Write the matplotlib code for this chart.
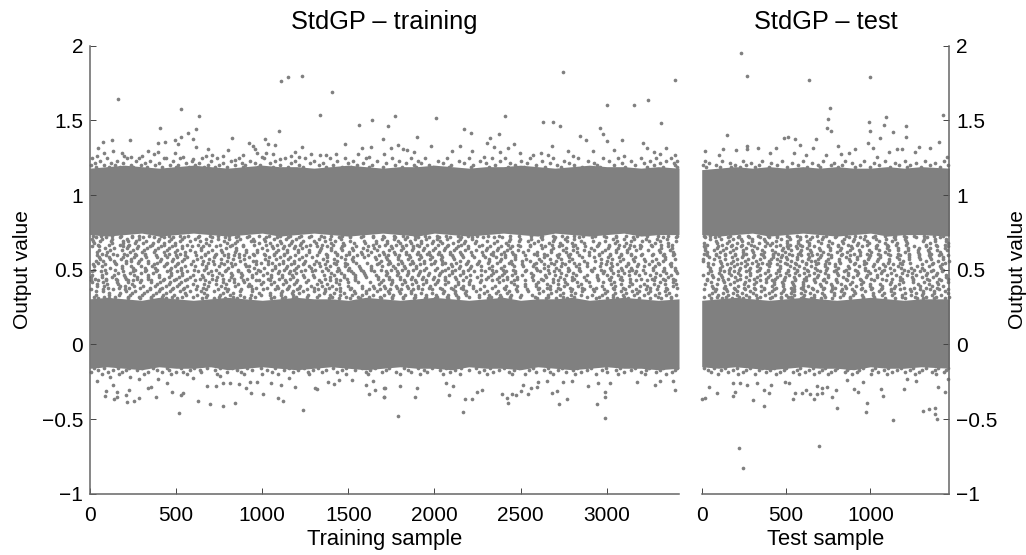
import matplotlib
matplotlib.use('Agg')
import matplotlib.pyplot as plt
import numpy as np

plt.rcParams['font.family'] = ['Liberation Sans', 'DejaVu Sans']

GREY = '#808080'

# the two solid bands hold far too many dots to read one by one, so their
# limits are read off the picture every 100 samples and drawn as filled areas
train_band_x = list(range(0, 3400, 100)) + [3420]
train_hi_top = [1.18, 1.19, 1.2, 1.19, 1.18, 1.19, 1.2, 1.19, 1.18, 1.19, 1.2, 1.19, 1.19, 1.18, 1.19, 1.2, 1.19, 1.18,
                1.19, 1.19, 1.2, 1.19, 1.18, 1.19, 1.19, 1.2, 1.19, 1.18, 1.19, 1.2, 1.19, 1.19, 1.18, 1.19, 1.18]
train_hi_bot = [0.735, 0.725, 0.735, 0.745, 0.725, 0.735, 0.745, 0.735, 0.725, 0.735, 0.745, 0.725, 0.735, 0.745, 0.735, 0.725, 0.735, 0.745,
                0.735, 0.725, 0.745, 0.735, 0.725, 0.735, 0.745, 0.735, 0.725, 0.745, 0.735, 0.725, 0.735, 0.745, 0.725, 0.735, 0.735]
train_lo_top = [0.305, 0.315, 0.305, 0.295, 0.315, 0.305, 0.295, 0.305, 0.315, 0.305, 0.295, 0.305, 0.315, 0.305, 0.305, 0.295, 0.315, 0.305,
                0.295, 0.305, 0.315, 0.305, 0.295, 0.305, 0.315, 0.295, 0.305, 0.305, 0.315, 0.295, 0.305, 0.315, 0.305, 0.295, 0.305]
train_lo_bot = [-0.16, -0.15, -0.16, -0.17, -0.15, -0.16, -0.16, -0.15, -0.17, -0.16, -0.15, -0.16, -0.17, -0.16, -0.15, -0.16,
                -0.17, -0.16, -0.15, -0.16, -0.16, -0.17, -0.15, -0.16, -0.16, -0.17, -0.15, -0.16, -0.17, -0.16, -0.15, -0.16,
                -0.16, -0.17, -0.16]

test_band_x = list(range(0, 1400, 100)) + [1467]
test_hi_top = [1.17, 1.18, 1.19, 1.18, 1.19, 1.18, 1.19, 1.18, 1.19, 1.18, 1.18, 1.19, 1.18, 1.19, 1.18]
test_hi_bot = [0.735, 0.725, 0.735, 0.745, 0.725, 0.735, 0.745, 0.735, 0.725, 0.735, 0.745, 0.725, 0.735, 0.735, 0.725]
test_lo_top = [0.295, 0.305, 0.315, 0.305, 0.295, 0.305, 0.315, 0.305, 0.295, 0.305, 0.315, 0.305, 0.295, 0.305, 0.305]
test_lo_bot = [-0.15, -0.16, -0.15, -0.16, -0.17, -0.16, -0.15, -0.16, -0.16, -0.17, -0.15, -0.16, -0.16, -0.15, -0.16]

# single dots above and below the bands
train_top = [(161, 1.64), (527, 1.576), (631, 1.529), (407, 1.446), (618, 1.44), (569, 1.415), (527, 1.389), (492, 1.368),
             (598, 1.377), (509, 1.339), (395, 1.35), (434, 1.353), (234, 1.368), (126, 1.366), (74, 1.353), (47, 1.315),
             (618, 1.319), (687, 1.31), (823, 1.382), (802, 1.299), (924, 1.35), (947, 1.33), (956, 1.308), (1015, 1.375),
             (1036, 1.339), (1073, 1.335), (1100, 1.429), (1109, 1.761), (1150, 1.79), (1231, 1.797), (1408, 1.688),
             (1338, 1.536), (1233, 1.319), (1481, 1.339), (1563, 1.471), (1638, 1.502), (1733, 1.464), (1700, 1.373),
             (1580, 1.315), (1632, 1.322), (39, 1.263), (83, 1.279), (136, 1.292), (184, 1.284), (199, 1.261), (240, 1.252),
             (304, 1.261), (337, 1.295), (372, 1.275), (397, 1.286), (440, 1.25), (494, 1.284), (538, 1.257), (600, 1.241),
             (674, 1.264), (711, 1.27), (773, 1.261), (840, 1.232), (891, 1.266), (970, 1.281), (997, 1.255), (1022, 1.284),
             (1061, 1.277), (1104, 1.239), (1168, 1.264), (1193, 1.29), (1212, 1.252), (1282, 1.275), (1336, 1.268),
             (1371, 1.266), (1429, 1.272), (1555, 1.275), (1619, 1.257), (1708, 1.275), (1769, 1.527), (2007, 1.516),
             (1901, 1.391), (2174, 1.444), (2213, 1.417), (2321, 1.384), (2305, 1.35), (2373, 1.409), (2410, 1.531),
             (2464, 1.342), (2747, 1.826), (3395, 1.772), (3241, 1.634), (3159, 1.6), (3000, 1.603), (2633, 1.489),
             (2689, 1.491), (2728, 1.462), (2962, 1.446), (2981, 1.409), (3002, 1.362), (2848, 1.393), (2882, 1.368),
             (3088, 1.366), (3316, 1.482), (3211, 1.348), (3345, 1.313), (2683, 1.326), (1790, 1.333), (1748, 1.317),
             (1816, 1.306), (1841, 1.301), (1980, 1.328), (2151, 1.328), (2348, 1.319), (2429, 1.315), (1881, 1.288),
             (2100, 1.292), (2216, 1.297), (2288, 1.257), (2381, 1.288), (2497, 1.279), (2571, 1.266), (2619, 1.284),
             (2658, 1.266), (2774, 1.292), (2803, 1.259), (2923, 1.292), (3043, 1.299), (3103, 1.261), (3233, 1.317),
             (3272, 1.288), (3310, 1.275), (3395, 1.268)]
train_bottom = [(515, -0.462), (1239, -0.44), (771, -0.413), (699, -0.397), (842, -0.395), (625, -0.382), (215, -0.386),
                (258, -0.382), (283, -0.357), (385, -0.355), (85, -0.346), (138, -0.368), (155, -0.35), (209, -0.339),
                (229, -0.306), (157, -0.319), (95, -0.31), (136, -0.275), (476, -0.321), (529, -0.339), (542, -0.326),
                (1119, -0.377), (1090, -0.359), (1005, -0.333), (933, -0.328), (1317, -0.301), (1305, -0.295), (678, -0.279),
                (730, -0.281), (774, -0.261), (813, -0.259), (867, -0.268), (904, -0.29), (1622, -0.33), (1655, -0.306),
                (1708, -0.29), (1706, -0.353), (1603, -0.272), (1644, -0.248), (1191, -0.284), (1107, -0.272), (1049, -0.257),
                (968, -0.25), (1384, -0.25), (1417, -0.268), (1444, -0.239), (337, -0.295), (356, -0.286), (445, -0.261),
                (395, -0.234), (39, -0.248), (232, -0.217), (283, -0.23), (542, -0.183), (600, -0.223), (755, -0.212),
                (929, -0.25), (1156, -0.223), (1520, -0.237), (116, -0.217), (1787, -0.478), (2168, -0.453), (2993, -0.493),
                (2942, -0.402), (2724, -0.402), (2770, -0.364), (2989, -0.355), (2993, -0.319), (2425, -0.393), (2422, -0.357),
                (2391, -0.33), (2449, -0.33), (2472, -0.339), (2501, -0.31), (2546, -0.335), (2516, -0.272), (2561, -0.29),
                (2598, -0.288), (2683, -0.328), (2710, -0.315), (2216, -0.364), (2180, -0.364), (2083, -0.337), (1887, -0.355),
                (1707, -0.35), (1711, -0.29), (1800, -0.279), (1897, -0.295), (2110, -0.277), (2245, -0.317), (2276, -0.306),
                (3397, -0.306), (3281, -0.272), (2894, -0.281), (2745, -0.254), (2797, -0.243), (2604, -0.25), (2652, -0.246),
                (2065, -0.261), (3175, -0.254), (3310, -0.243), (3388, -0.243), (2952, -0.257), (3020, -0.261)]
test_top = [(233, 1.953), (270, 1.799), (634, 1.77), (999, 1.788), (760, 1.585), (748, 1.507), (742, 1.449), (766, 1.431),
            (152, 1.404), (488, 1.384), (513, 1.389), (551, 1.375), (677, 1.375), (580, 1.335), (268, 1.33), (989, 1.491),
            (997, 1.431), (1090, 1.525), (1078, 1.469), (1131, 1.424), (1055, 1.382), (1210, 1.464), (1210, 1.386), (1428, 1.538),
            (1408, 1.353), (987, 1.346), (808, 1.328), (21, 1.295), (126, 1.308), (203, 1.299), (268, 1.306), (332, 1.315),
            (442, 1.313), (405, 1.279), (661, 1.317), (908, 1.31), (875, 1.281), (1013, 1.317), (1159, 1.31), (1187, 1.308),
            (1290, 1.319), (1353, 1.317), (1262, 1.288), (1108, 1.29), (1451, 1.254), (105, 1.266), (545, 1.284), (620, 1.266),
            (736, 1.268), (825, 1.277), (1037, 1.257)]
test_bottom = [(243, -0.83), (223, -0.694), (695, -0.683), (1133, -0.509), (1396, -0.498), (1382, -0.469), (1384, -0.426),
               (1349, -0.431), (1313, -0.444), (975, -0.455), (977, -0.391), (800, -0.424), (371, -0.413), (304, -0.375),
               (2, -0.364), (18, -0.357), (185, -0.344), (197, -0.317), (89, -0.328), (41, -0.284), (183, -0.257), (229, -0.259),
               (266, -0.27), (326, -0.257), (399, -0.324), (369, -0.306), (409, -0.275), (543, -0.366), (553, -0.328),
               (596, -0.328), (620, -0.304), (642, -0.333), (665, -0.366), (685, -0.335), (711, -0.328), (711, -0.295),
               (740, -0.288), (774, -0.35), (796, -0.304), (904, -0.301), (928, -0.317), (1062, -0.301), (1072, -0.344),
               (1199, -0.301), (1400, -0.286), (1443, -0.321), (519, -0.261), (493, -0.254), (685, -0.277), (958, -0.25),
               (859, -0.241), (1214, -0.234), (1268, -0.243), (1457, -0.232)]

# positions along rows in the fringes and the gap, estimated by eye: they give the
# density and look of the picture but are not the exact dots
fringe_levels = [1.245, 1.23, 1.215, 1.2, 1.185, -0.155, -0.17, -0.185, -0.2]
train_fringe = [
    [12, 97, 213, 286, 431, 523, 649, 738, 867, 1012, 1133, 1247, 1391, 1478, 1602, 1751, 1863, 1947, 2071, 2198, 2334, 2409, 2557, 2691, 2836, 2977, 3068, 3197, 3289, 3371],
    [58, 154, 267, 349, 482, 591, 703, 816, 928, 1076, 1189, 1302, 1437, 1529, 1668, 1792, 1906, 2018, 2143, 2262, 2378, 2503, 2622, 2751, 2891, 3016, 3142, 3251, 3346, 3407],
    [27, 121, 189, 318, 402, 557, 634, 772, 881, 959, 1045, 1168, 1276, 1354, 1496, 1583, 1716, 1834, 1922, 2049, 2171, 2297, 2441, 2536, 2669, 2782, 2928, 3087, 3218, 3309, 3389],
    [7, 79, 143, 238, 296, 377, 463, 512, 609, 688, 749, 843, 902, 987, 1103, 1216, 1329, 1412, 1548, 1637, 1773, 1881, 1968, 2097, 2226, 2352, 2468, 2587, 2714, 2809, 2945, 3041, 3166, 3273, 3398],
    [36, 108, 176, 252, 331, 418, 497, 574, 661, 727, 798, 891, 976, 1063, 1151, 1239, 1368, 1463, 1514, 1621, 1704, 1812, 1893, 1991, 2084, 2213, 2317, 2426, 2519, 2641, 2733, 2858, 2962, 3109, 3234, 3326, 3411],
    [21, 84, 163, 229, 304, 367, 449, 528, 603, 679, 752, 827, 913, 994, 1072, 1158, 1243, 1326, 1409, 1487, 1578, 1653, 1738, 1821, 1904, 1987, 2069, 2154, 2239, 2321, 2406, 2491, 2573, 2657, 2743, 2826, 2908, 2994, 3078, 3162, 3247, 3329, 3406],
    [49, 132, 207, 271, 389, 461, 578, 641, 723, 856, 942, 1029, 1127, 1208, 1297, 1373, 1462, 1541, 1627, 1719, 1846, 1939, 2031, 2118, 2202, 2289, 2374, 2461, 2548, 2636, 2719, 2802, 2886, 2972, 3057, 3141, 3226, 3312, 3394],
    [8, 103, 186, 338, 417, 501, 647, 794, 877, 1058, 1181, 1263, 1349, 1436, 1601, 1693, 1778, 1862, 1956, 2091, 2256, 2341, 2432, 2587, 2671, 2764, 2853, 3004, 3103, 3197, 3288, 3378],
    [71, 168, 312, 473, 561, 738, 892, 1001, 1094, 1273, 1486, 1612, 1801, 1918, 2049, 2147, 2304, 2449, 2528, 2689, 2818, 2937, 3063, 3222, 3345],
]
test_fringe = [
    [18, 123, 247, 358, 476, 602, 718, 847, 963, 1084, 1203, 1321, 1438],
    [42, 167, 291, 412, 533, 654, 782, 891, 1018, 1146, 1267, 1383],
    [9, 83, 196, 263, 341, 448, 571, 687, 764, 829, 937, 1052, 1171, 1236, 1352, 1457],
    [27, 106, 174, 229, 316, 397, 508, 622, 703, 808, 906, 996, 1113, 1218, 1301, 1409],
    [14, 71, 138, 209, 284, 356, 431, 502, 583, 658, 729, 801, 874, 953, 1026, 1102, 1178, 1251, 1327, 1403, 1461],
    [36, 112, 187, 262, 337, 407, 489, 562, 637, 711, 788, 861, 932, 1009, 1083, 1157, 1233, 1306, 1381, 1449],
    [58, 153, 242, 381, 463, 541, 612, 693, 768, 849, 918, 1043, 1126, 1204, 1288, 1367, 1433],
    [97, 216, 318, 443, 576, 663, 747, 893, 1001, 1098, 1262, 1391],
]
test_fringe_levels = [1.23, 1.215, 1.2, 1.185, -0.155, -0.17, -0.185, -0.2]

gap_levels = [0.728, 0.596, 0.464, 0.332, 0.632, 0.5, 0.368, 0.668, 0.536, 0.404, 0.704, 0.572, 0.44, 0.308, 0.608, 0.476, 0.344, 0.644,
              0.512, 0.38, 0.68, 0.548, 0.416, 0.716, 0.584, 0.452, 0.32, 0.62, 0.488, 0.356, 0.656, 0.524, 0.392, 0.692, 0.56, 0.428]
train_gap = [
    [16, 63, 129, 178, 241, 287, 344, 412, 458, 523, 571, 634, 697, 742, 808, 861, 924, 983, 1038, 1101, 1159, 1224, 1283, 1341, 1402, 1466, 1511, 1588, 1642, 1703, 1768, 1819, 1887, 1943, 2012, 2066, 2134, 2193, 2247, 2313, 2372, 2438, 2492, 2561, 2627, 2688, 2741, 2809, 2863, 2931, 2987, 3052, 3113, 3179, 3232, 3296, 3358, 3408],
    [41, 92, 157, 213, 266, 321, 386, 437, 497, 549, 613, 668, 723, 779, 838, 896, 952, 1014, 1069, 1128, 1193, 1253, 1317, 1374, 1433, 1489, 1552, 1614, 1677, 1731, 1794, 1852, 1914, 1977, 2039, 2103, 2161, 2219, 2281, 2341, 2407, 2466, 2524, 2593, 2654, 2713, 2778, 2837, 2898, 2956, 3018, 3081, 3143, 3201, 3264, 3327, 3384],
    [9, 71, 138, 196, 253, 334, 398, 471, 536, 598, 651, 711, 767, 826, 882, 941, 1003, 1052, 1116, 1172, 1238, 1296, 1358, 1419, 1477, 1538, 1597, 1658, 1719, 1783, 1841, 1902, 1961, 2024, 2087, 2147, 2206, 2269, 2329, 2391, 2452, 2511, 2572, 2641, 2702, 2763, 2821, 2884, 2943, 3004, 3067, 3127, 3188, 3249, 3312, 3373],
    [33, 108, 169, 231, 301, 363, 422, 486, 559, 624, 682, 754, 811, 871, 933, 992, 1047, 1109, 1181, 1267, 1329, 1391, 1452, 1523, 1581, 1643, 1708, 1759, 1828, 1889, 1951, 2008, 2076, 2128, 2186, 2257, 2318, 2381, 2443, 2502, 2567, 2658, 2727, 2791, 2852, 2913, 2971, 3036, 3094, 3157, 3218, 3281, 3342, 3401],
    [52, 119, 184, 247, 311, 379, 445, 508, 581, 642, 706, 763, 849, 908, 969, 1027, 1089, 1146, 1209, 1274, 1337, 1401, 1463, 1527, 1606, 1669, 1737, 1803, 1867, 1931, 1993, 2057, 2116, 2178, 2241, 2301, 2364, 2421, 2483, 2546, 2679, 2749, 2806, 2869, 2928, 2992, 3055, 3118, 3172, 3238, 3303, 3366],
    [24, 88, 146, 262, 327, 391, 463, 527, 603, 661, 734, 792, 858, 918, 977, 1058, 1124, 1186, 1246, 1308, 1383, 1444, 1498, 1573, 1632, 1691, 1748, 1811, 1873, 1938, 2003, 2062, 2121, 2192, 2272, 2337, 2398, 2457, 2531, 2596, 2662, 2721, 2783, 2841, 2907, 2966, 3027, 3089, 3146, 3209, 3271, 3334, 3397],
    [6, 74, 133, 203, 347, 409, 478, 541, 617, 674, 745, 803, 876, 939, 1006, 1077, 1141, 1202, 1262, 1321, 1367, 1429, 1507, 1622, 1684, 1742, 1807, 1876, 1926, 1984, 2044, 2109, 2168, 2263, 2408, 2476, 2538, 2603, 2669, 2731, 2796, 2868, 2921, 2982, 3043, 3106, 3171, 3229, 3291, 3349],
    [47, 111, 172, 226, 358, 427, 493, 564, 628, 689, 757, 822, 887, 951, 1021, 1083, 1153, 1219, 1278, 1346, 1413, 1473, 1644, 1711, 1774, 1837, 1898, 1959, 2019, 2081, 2152, 2277, 2427, 2487, 2554, 2618, 2684, 2742, 2818, 2947, 3011, 3074, 3133, 3196, 3258, 3318, 3382],
    [18, 86, 149, 374, 441, 506, 586, 652, 718, 778, 844, 902, 964, 1033, 1097, 1165, 1234, 1302, 1366, 1428, 1491, 1666, 1729, 1788, 1856, 1919, 1982, 2043, 2098, 2181, 2248, 2448, 2509, 2577, 2636, 2697, 2759, 2837, 2996, 3059, 3122, 3184, 3243, 3306, 3369],
    [38, 99, 161, 241, 387, 456, 519, 596, 664, 731, 788, 859, 926, 991, 1051, 1118, 1183, 1318, 1379, 1447, 1678, 1747, 1812, 1871, 1934, 2001, 2059, 2137, 2201, 2463, 2528, 2588, 2652, 2716, 2771, 2849, 3023, 3086, 3149, 3214, 3277, 3339, 3403],
    [11, 72, 127, 214, 283, 401, 468, 533, 609, 676, 741, 806, 869, 944, 1008, 1066, 1138, 1197, 1332, 1396, 1458, 1696, 1763, 1827, 1888, 1949, 2016, 2074, 2146, 2218, 2436, 2497, 2563, 2627, 2694, 2756, 2812, 3037, 3099, 3161, 3226, 3294, 3353],
    [56, 116, 179, 236, 299, 414, 483, 548, 623, 693, 761, 829, 896, 1019, 1079, 1147, 1211, 1351, 1418, 1482, 1521, 1661, 1722, 1786, 1849, 1912, 1973, 2036, 2112, 2318, 2387, 2469, 2534, 2606, 2672, 2733, 2798, 2967, 3031, 3093, 3152, 3219, 3284, 3341, 3396],
    [29, 92, 152, 207, 274, 336, 429, 497, 561, 638, 707, 771, 837, 914, 1036, 1098, 1162, 1364, 1431, 1494, 1541, 1674, 1737, 1802, 1863, 1926, 1994, 2063, 2124, 2299, 2362, 2421, 2482, 2617, 2687, 2752, 2813, 2951, 3013, 3077, 3138, 3201, 3263, 3327, 3388],
    [48, 109, 223, 291, 353, 442, 508, 651, 719, 786, 851, 929, 1051, 1113, 1178, 1388, 1447, 1512, 1567, 1689, 1752, 1819, 1881, 1943, 2006, 2077, 2137, 2312, 2376, 2437, 2593, 2648, 2708, 2768, 2939, 3002, 3062, 3126, 3189, 3252, 3313, 3375],
    [67, 131, 198, 262, 321, 457, 524, 667, 733, 801, 863, 945, 1012, 1071, 1127, 1372, 1436, 1503, 1578, 1708, 1771, 1833, 1896, 1958, 2021, 2089, 2153, 2326, 2389, 2454, 2576, 2639, 2726, 2789, 2958, 3019, 3083, 3144, 3207, 3268, 3331, 3392],
    [94, 163, 231, 296, 367, 473, 536, 688, 749, 819, 878, 966, 1028, 1091, 1156, 1196, 1398, 1459, 1526, 1593, 1722, 1786, 1847, 1909, 1971, 2034, 2103, 2166, 2341, 2402, 2469, 2562, 2663, 2737, 2803, 2976, 3036, 3098, 3163, 3224, 3286, 3347, 3409],
    [112, 176, 246, 311, 382, 441, 553, 662, 771, 833, 984, 1046, 1108, 1171, 1214, 1358, 1414, 1473, 1537, 1603, 1739, 1799, 1861, 1923, 1987, 2048, 2117, 2179, 2287, 2356, 2421, 2607, 2676, 2749, 2817, 2992, 3051, 3112, 3177, 3238, 3301, 3362],
    [86, 141, 213, 272, 329, 397, 459, 536, 647, 787, 849, 998, 1061, 1122, 1184, 1229, 1342, 1401, 1456, 1521, 1584, 1651, 1754, 1816, 1878, 1937, 2001, 2062, 2128, 2194, 2303, 2371, 2438, 2623, 2689, 2761, 2829, 2911, 3006, 3067, 3128, 3191, 3316, 3379],
    [119, 187, 251, 318, 376, 472, 528, 674, 803, 952, 1013, 1076, 1139, 1197, 1286, 1373, 1438, 1502, 1566, 1631, 1769, 1831, 1893, 1952, 2016, 2079, 2141, 2207, 2318, 2386, 2591, 2637, 2703, 2774, 2842, 2924, 3021, 3082, 3142, 3268, 3331, 3394],
    [103, 168, 229, 289, 351, 416, 483, 547, 658, 781, 966, 1029, 1093, 1152, 1213, 1301, 1387, 1451, 1518, 1582, 1647, 1711, 1784, 1846, 1907, 1968, 2032, 2094, 2156, 2221, 2332, 2401, 2609, 2651, 2717, 2786, 2856, 2937, 3036, 3097, 3253, 3344, 3407],
    [21, 127, 192, 264, 307, 368, 431, 496, 671, 796, 843, 979, 1043, 1107, 1167, 1228, 1312, 1402, 1467, 1533, 1596, 1662, 1726, 1799, 1861, 1923, 1984, 2046, 2108, 2172, 2236, 2346, 2416, 2578, 2664, 2731, 2799, 2871, 2953, 3049, 3111, 3283, 3358],
    [46, 144, 207, 278, 336, 387, 448, 512, 684, 758, 818, 993, 1058, 1121, 1182, 1243, 1328, 1416, 1482, 1547, 1611, 1676, 1741, 1813, 1876, 1938, 1999, 2061, 2123, 2187, 2251, 2312, 2363, 2432, 2591, 2677, 2743, 2813, 2884, 2966, 3026, 3124, 3299, 3372],
    [12, 73, 158, 223, 293, 352, 409, 467, 529, 693, 772, 834, 897, 1007, 1071, 1136, 1199, 1257, 1344, 1429, 1496, 1559, 1626, 1691, 1756, 1828, 1891, 1952, 2014, 2076, 2138, 2202, 2266, 2377, 2447, 2604, 2688, 2757, 2827, 2897, 2979, 3041, 3138, 3312, 3386],
    [32, 91, 174, 241, 309, 371, 429, 483, 548, 628, 707, 786, 849, 911, 1022, 1086, 1151, 1214, 1273, 1361, 1443, 1511, 1574, 1641, 1706, 1771, 1842, 1906, 1968, 2029, 2091, 2153, 2217, 2281, 2343, 2392, 2619, 2702, 2771, 2841, 2912, 2994, 3056, 3153, 3326, 3401],
    [54, 113, 189, 256, 323, 388, 446, 503, 566, 644, 721, 801, 863, 926, 1037, 1101, 1164, 1229, 1288, 1376, 1457, 1526, 1589, 1656, 1721, 1787, 1857, 1921, 1983, 2044, 2106, 2168, 2231, 2296, 2358, 2407, 2467, 2634, 2716, 2784, 2855, 2926, 3009, 3071, 3167, 3341],
    [7, 68, 129, 204, 272, 339, 403, 461, 519, 581, 658, 736, 816, 878, 941, 1052, 1116, 1179, 1243, 1303, 1391, 1472, 1541, 1604, 1671, 1736, 1802, 1872, 1936, 1998, 2059, 2121, 2183, 2246, 2311, 2373, 2422, 2482, 2568, 2649, 2731, 2799, 2869, 2941, 3023, 3086, 3281, 3356],
    [26, 84, 146, 219, 287, 354, 417, 476, 534, 597, 673, 751, 829, 893, 956, 1067, 1131, 1194, 1258, 1317, 1406, 1487, 1556, 1619, 1686, 1751, 1817, 1887, 1951, 2013, 2074, 2136, 2198, 2261, 2326, 2388, 2437, 2497, 2583, 2662, 2746, 2813, 2884, 2956, 3038, 3101, 3296, 3371],
    [43, 101, 234, 302, 369, 432, 491, 549, 612, 688, 766, 843, 908, 971, 1082, 1146, 1209, 1273, 1332, 1421, 1502, 1571, 1634, 1701, 1766, 1832, 1902, 1966, 2028, 2089, 2151, 2213, 2276, 2341, 2403, 2452, 2512, 2598, 2677, 2761, 2828, 2899, 2971, 3053, 3116, 3311, 3386],
    [14, 61, 193, 249, 317, 384, 447, 506, 564, 627, 703, 781, 858, 923, 986, 1097, 1161, 1224, 1288, 1347, 1436, 1517, 1586, 1649, 1716, 1781, 1847, 1917, 2043, 2104, 2166, 2228, 2291, 2356, 2418, 2467, 2527, 2613, 2692, 2776, 2843, 2914, 2986, 3068, 3131, 3172, 3326, 3401],
    [32, 78, 208, 264, 332, 399, 462, 521, 579, 642, 718, 796, 873, 938, 1112, 1176, 1239, 1303, 1362, 1451, 1532, 1601, 1664, 1731, 1796, 1862, 2058, 2119, 2181, 2243, 2306, 2371, 2433, 2482, 2542, 2628, 2707, 2791, 2858, 2929, 3001, 3083, 3146, 3187, 3251, 3341],
    [9, 53, 191, 223, 279, 347, 414, 477, 536, 594, 657, 733, 811, 888, 1058, 1127, 1191, 1254, 1318, 1377, 1466, 1547, 1616, 1679, 1746, 1811, 1877, 1912, 2073, 2134, 2196, 2258, 2321, 2386, 2448, 2497, 2557, 2643, 2722, 2806, 2873, 2944, 3016, 3098, 3161, 3202, 3266, 3356],
    [24, 68, 186, 238, 294, 362, 429, 492, 551, 609, 672, 748, 826, 903, 921, 1073, 1142, 1206, 1269, 1333, 1392, 1481, 1562, 1631, 1694, 1761, 1826, 1892, 2104, 2149, 2211, 2273, 2336, 2401, 2463, 2512, 2572, 2658, 2737, 2821, 2888, 2959, 3031, 3113, 3176, 3217, 3281, 3371],
    [41, 83, 174, 206, 253, 309, 377, 444, 507, 566, 624, 687, 763, 841, 918, 936, 1088, 1157, 1221, 1284, 1348, 1407, 1496, 1577, 1646, 1709, 1776, 1841, 1907, 1974, 2119, 2164, 2226, 2288, 2351, 2416, 2478, 2527, 2587, 2673, 2752, 2836, 2903, 2974, 3046, 3128, 3191, 3232, 3296, 3386],
    [16, 59, 122, 193, 221, 268, 324, 392, 459, 522, 581, 639, 702, 778, 856, 933, 951, 1018, 1103, 1172, 1236, 1299, 1363, 1422, 1511, 1592, 1661, 1724, 1791, 1856, 1922, 1989, 2031, 2134, 2179, 2241, 2303, 2366, 2431, 2493, 2542, 2602, 2688, 2767, 2851, 2918, 2989, 3061, 3143, 3206, 3247, 3311, 3401],
    [37, 76, 141, 208, 236, 283, 339, 407, 474, 537, 596, 654, 717, 793, 871, 948, 966, 1033, 1118, 1187, 1251, 1314, 1378, 1437, 1526, 1687, 1739, 1806, 1871, 1937, 2004, 2046, 2149, 2194, 2256, 2318, 2381, 2446, 2508, 2557, 2617, 2703, 2782, 2866, 2933, 3004, 3076, 3158, 3221, 3262, 3326],
    [8, 49, 93, 156, 223, 251, 298, 354, 422, 489, 552, 611, 669, 732, 808, 886, 963, 981, 1048, 1133, 1202, 1266, 1329, 1393, 1452, 1541, 1702, 1754, 1821, 1886, 1952, 2019, 2061, 2164, 2209, 2271, 2333, 2396, 2461, 2523, 2572, 2632, 2718, 2797, 2881, 2948, 3019, 3091, 3173, 3236, 3277, 3341, 3396],
]
test_gap = [
    [11, 48, 104, 167, 219, 273, 336, 391, 447, 508, 563, 619, 682, 734, 796, 852, 907, 968, 1024, 1086, 1143, 1201, 1258, 1319, 1378, 1431],
    [31, 82, 138, 196, 247, 308, 362, 421, 476, 537, 591, 652, 708, 768, 823, 881, 938, 997, 1056, 1114, 1173, 1229, 1288, 1347, 1404, 1457],
    [6, 63, 117, 176, 229, 287, 346, 403, 461, 518, 576, 634, 691, 751, 806, 866, 921, 981, 1038, 1097, 1154, 1216, 1272, 1331, 1389, 1446],
    [43, 94, 153, 208, 264, 323, 378, 436, 497, 549, 607, 668, 724, 783, 838, 897, 952, 1012, 1071, 1128, 1186, 1243, 1304, 1362, 1419],
    [22, 74, 129, 187, 246, 299, 358, 417, 473, 531, 589, 644, 702, 759, 817, 876, 934, 989, 1049, 1107, 1163, 1221, 1279, 1338, 1397, 1451],
    [52, 108, 163, 223, 281, 337, 393, 452, 511, 564, 623, 681, 739, 794, 853, 911, 967, 1026, 1083, 1141, 1198, 1256, 1316, 1373, 1428],
    [12, 86, 142, 199, 258, 316, 371, 428, 486, 546, 601, 658, 716, 772, 831, 888, 944, 1003, 1062, 1119, 1176, 1234, 1293, 1351, 1408, 1461],
    [34, 121, 178, 236, 293, 407, 464, 523, 581, 638, 751, 809, 866, 923, 981, 1039, 1097, 1154, 1211, 1328, 1386, 1442],
    [67, 148, 209, 271, 331, 389, 446, 503, 561, 619, 676, 731, 788, 902, 961, 1018, 1076, 1132, 1189, 1306, 1363, 1424],
    [18, 92, 166, 253, 312, 428, 484, 541, 598, 699, 766, 824, 881, 942, 999, 1056, 1113, 1171, 1284, 1344, 1402],
    [49, 113, 187, 232, 296, 368, 467, 523, 583, 641, 714, 846, 903, 964, 1033, 1091, 1148, 1203, 1319, 1381, 1449],
    [8, 74, 138, 209, 277, 348, 408, 449, 507, 567, 627, 688, 749, 812, 873, 921, 986, 1047, 1109, 1167, 1229, 1296, 1358, 1427],
    [29, 96, 157, 226, 311, 381, 436, 488, 553, 607, 664, 727, 793, 856, 938, 1004, 1069, 1128, 1186, 1249, 1337, 1404, 1459],
    [57, 119, 178, 246, 329, 402, 471, 534, 589, 646, 708, 771, 881, 956, 1023, 1088, 1147, 1204, 1274, 1311, 1379, 1441],
    [12, 84, 141, 199, 264, 352, 423, 452, 516, 568, 627, 686, 747, 829, 902, 977, 1042, 1106, 1166, 1228, 1289, 1356, 1418],
    [38, 102, 162, 217, 284, 374, 441, 497, 551, 609, 664, 729, 804, 869, 924, 996, 1061, 1124, 1187, 1247, 1334, 1397],
    [63, 124, 183, 241, 306, 398, 467, 531, 586, 643, 711, 784, 846, 908, 1014, 1081, 1142, 1204, 1267, 1312, 1376, 1461],
    [21, 88, 146, 204, 262, 328, 483, 512, 567, 626, 693, 761, 826, 891, 1032, 1099, 1161, 1223, 1286, 1354, 1439],
    [47, 109, 168, 226, 287, 346, 462, 548, 607, 672, 743, 809, 873, 967, 1051, 1116, 1179, 1239, 1306, 1418],
    [69, 131, 189, 248, 311, 369, 441, 528, 589, 654, 726, 791, 856, 947, 1009, 1068, 1137, 1197, 1258, 1329, 1396],
    [13, 91, 152, 211, 273, 338, 386, 419, 508, 571, 634, 708, 773, 839, 929, 991, 1084, 1156, 1216, 1351, 1457],
    [36, 112, 173, 234, 297, 356, 402, 491, 553, 616, 689, 756, 821, 911, 973, 1103, 1174, 1233, 1372, 1441],
    [58, 134, 194, 257, 321, 379, 426, 473, 536, 598, 671, 738, 804, 893, 954, 1121, 1192, 1251, 1316, 1393, 1462],
    [22, 79, 156, 216, 279, 344, 401, 447, 517, 582, 654, 719, 787, 874, 936, 1013, 1139, 1208, 1269, 1334, 1412],
    [43, 101, 178, 238, 301, 368, 423, 469, 499, 563, 637, 702, 769, 856, 918, 994, 1058, 1157, 1226, 1288, 1353, 1431],
    [66, 123, 199, 261, 326, 391, 446, 491, 547, 619, 684, 751, 838, 899, 976, 1039, 1173, 1244, 1307, 1372, 1449],
    [11, 88, 146, 221, 283, 348, 414, 468, 513, 528, 601, 667, 733, 819, 881, 957, 1021, 1189, 1261, 1326, 1391, 1464],
    [31, 109, 168, 243, 306, 371, 437, 491, 584, 649, 716, 801, 862, 939, 1003, 1084, 1206, 1279, 1344, 1409],
    [53, 131, 189, 264, 328, 393, 459, 513, 566, 631, 698, 783, 843, 921, 986, 1066, 1223, 1296, 1361, 1426],
    [76, 152, 211, 286, 351, 416, 481, 536, 548, 613, 681, 764, 826, 903, 968, 1049, 1123, 1241, 1313, 1378, 1443],
    [14, 97, 173, 233, 307, 373, 438, 503, 558, 596, 663, 746, 808, 886, 949, 1032, 1106, 1258, 1331, 1396, 1461],
    [38, 118, 194, 254, 329, 396, 461, 526, 578, 646, 728, 791, 868, 931, 1014, 1088, 1164, 1276, 1349, 1414],
    [61, 141, 216, 276, 351, 418, 483, 548, 601, 628, 709, 773, 851, 913, 996, 1071, 1146, 1293, 1366, 1431],
    [83, 163, 238, 298, 373, 441, 506, 571, 623, 691, 756, 833, 896, 978, 1053, 1128, 1209, 1311, 1384, 1449],
    [8, 106, 186, 259, 321, 396, 463, 528, 593, 646, 673, 738, 816, 878, 961, 1036, 1111, 1191, 1329, 1402, 1466],
    [29, 128, 208, 281, 343, 418, 486, 551, 616, 668, 721, 798, 861, 943, 1018, 1093, 1174, 1251, 1347, 1419],
]

xmax_train, xmax_test = 3420, 1467
xticks_train = [0, 500, 1000, 1500, 2000, 2500, 3000]
xticks_test = [0, 500, 1000]
yticks = [-1, -0.5, 0, 0.5, 1, 1.5, 2]
ylabels = ['\u22121', '\u22120.5', '0', '0.5', '1', '1.5', '2']


def draw_panel(ax, band_x, hi_top, hi_bot, lo_top, lo_bot, dots, levels, rows):
    ax.fill_between(band_x, hi_bot, hi_top, color=GREY, linewidth=0)
    ax.fill_between(band_x, lo_bot, lo_top, color=GREY, linewidth=0)
    x = [p[0] for p in dots]
    y = [p[1] for p in dots]
    for level, xs in zip(levels, rows):
        x = x + xs
        y = y + [level] * len(xs)
    ax.scatter(x, y, s=7, color=GREY, linewidths=0, clip_on=False)


fig = plt.figure(figsize=(10.26, 5.55), dpi=100)
W, H = 1026.0, 555.0
ax1 = fig.add_axes([90 / W, 1 - 493.7 / H, 589 / W, 448 / H])
ax2 = fig.add_axes([701.7 / W, 1 - 493.7 / H, 247.6 / W, 448 / H])

draw_panel(ax1, train_band_x, train_hi_top, train_hi_bot, train_lo_top, train_lo_bot, train_top + train_bottom,
           fringe_levels + gap_levels, train_fringe + train_gap)
draw_panel(ax2, test_band_x, test_hi_top, test_hi_bot, test_lo_top, test_lo_bot, test_top + test_bottom,
           test_fringe_levels + gap_levels, test_fringe + test_gap)

ax1.set_xlim(0, xmax_train)
ax2.set_xlim(0, xmax_test)
ax1.set_xticks(xticks_train)
ax2.set_xticks(xticks_test)

for ax in (ax1, ax2):
    ax.set_ylim(-1, 2)
    ax.set_yticks(yticks)
    ax.set_yticklabels(ylabels)
    ax.spines['top'].set_visible(False)
    ax.tick_params(direction='in', length=4.5, width=0.7, color='#444444', labelsize=15)
    ax.tick_params(axis='x', pad=9)
    ax.tick_params(axis='y', pad=5)
    for s in ax.spines.values():
        s.set_color('#666666')
        s.set_linewidth(1.1)
    ax.patch.set_visible(False)

ax1.spines['right'].set_visible(False)
ax2.spines['left'].set_visible(False)
ax2.yaxis.tick_right()
ax2.yaxis.set_label_position('right')

ax1.set_title('StdGP \u2013 training', fontsize=18.3, pad=12)
ax2.set_title('StdGP \u2013 test', fontsize=18.3, pad=12)
ax1.set_xlabel('Training sample', fontsize=15.8, labelpad=3)
ax2.set_xlabel('Test sample', fontsize=15.8, labelpad=3)
ax1.set_ylabel('Output value', fontsize=15, labelpad=7)
ax2.set_ylabel('Output value', fontsize=15, labelpad=7.5)

plt.savefig('out.png', dpi=100)
